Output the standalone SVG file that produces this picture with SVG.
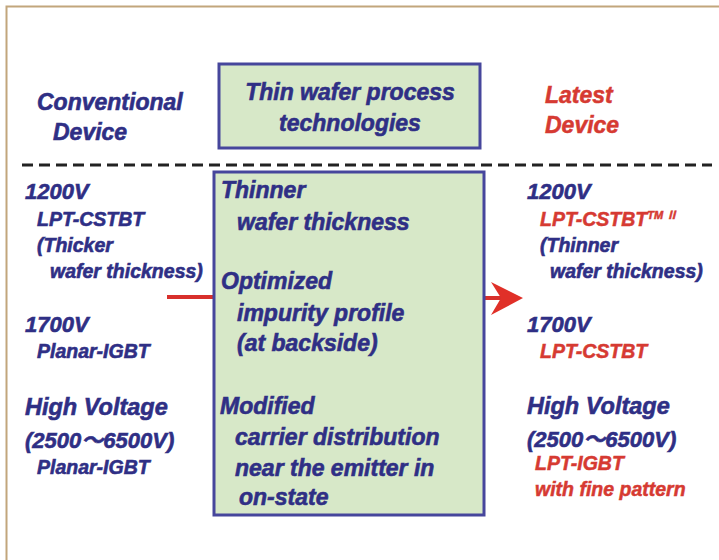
<svg xmlns="http://www.w3.org/2000/svg" width="719" height="560" viewBox="0 0 719 560">
<defs>
<style>
text { font-family: "Liberation Sans", Arial, "Noto Sans CJK JP", sans-serif; font-weight: bold; font-style: italic; }
.b { fill: #2f2f85; stroke: #2f2f85; stroke-width: 0.6; }
.r { fill: #d63a32; stroke: #d63a32; stroke-width: 0.5; }
.t { font-size: 23px; }
.h { font-size: 22px; }
.hv { font-size: 23.5px; }
.s { font-size: 19.5px; }
.c { font-size: 23px; }
.box { fill: #d7e8c8; stroke: #46469c; stroke-width: 3; }
</style>
</defs>
<rect x="0" y="0" width="719" height="560" fill="#ffffff"/>
<path d="M6.5 560 V6.5 H719" fill="none" stroke="#c2a67c" stroke-width="2"/>

<g id="connectors">
<line x1="22" y1="165" x2="712" y2="165" stroke="#222" stroke-width="3" stroke-dasharray="11,6"/>
<line x1="167" y1="297" x2="213" y2="297" stroke="#d8302c" stroke-width="4"/>
<line x1="484" y1="298" x2="504" y2="298" stroke="#d8302c" stroke-width="4"/>
<polygon points="523,298 491,282 501,298 491,315" fill="#e03028"/>
</g>

<g id="conventional-title">
<text class="b t" x="37" y="110">Conventional</text>
<text class="b t" x="53" y="140">Device</text>
</g>

<g id="process-title">
<rect class="box" x="219" y="64" width="261" height="84"/>
<text class="b t" x="350" y="100" text-anchor="middle">Thin wafer process</text>
<text class="b t" x="350" y="131" text-anchor="middle">technologies</text>
</g>

<g id="latest-title">
<text class="r t" x="545" y="103">Latest</text>
<text class="r t" x="545" y="133">Device</text>
</g>

<g id="conventional-list">
<text class="b h" x="25" y="199">1200V</text>
<text class="b s" x="37" y="226">LPT-CSTBT</text>
<text class="b s" x="37" y="252">(Thicker</text>
<text class="b s" x="50" y="278">wafer thickness)</text>
<text class="b h" x="25" y="332">1700V</text>
<text class="b s" x="37" y="358">Planar-IGBT</text>
<text class="b hv" x="25" y="415">High Voltage</text>
<text class="b h" x="25" y="448">(2500～6500V)</text>
<text class="b s" x="37" y="474">Planar-IGBT</text>
</g>

<g id="process-list">
<rect class="box" x="214" y="172" width="270" height="343"/>
<text class="b c" x="221" y="198">Thinner</text>
<text class="b c" x="237" y="230">wafer thickness</text>
<text class="b c" x="221" y="289">Optimized</text>
<text class="b c" x="237" y="321">impurity profile</text>
<text class="b c" x="237" y="351">(at backside)</text>
<text class="b c" x="220" y="414">Modified</text>
<text class="b c" x="235" y="445">carrier distribution</text>
<text class="b c" x="235" y="476">near the emitter in</text>
<text class="b c" x="239" y="505">on-state</text>
</g>

<g id="latest-list">
<text class="b h" x="527" y="199">1200V</text>
<text class="r s" x="540" y="226">LPT-CSTBT<tspan font-size="11" dy="-7">TM Ⅱ</tspan></text>
<text class="b s" x="540" y="252">(Thinner</text>
<text class="b s" x="550" y="278">wafer thickness)</text>
<text class="b h" x="527" y="332">1700V</text>
<text class="r s" x="540" y="358">LPT-CSTBT</text>
<text class="b hv" x="527" y="414">High Voltage</text>
<text class="b h" x="527" y="447">(2500～6500V)</text>
<text class="r s" x="535" y="470">LPT-IGBT</text>
<text class="r s" x="535" y="496">with fine pattern</text>
</g>
</svg>
